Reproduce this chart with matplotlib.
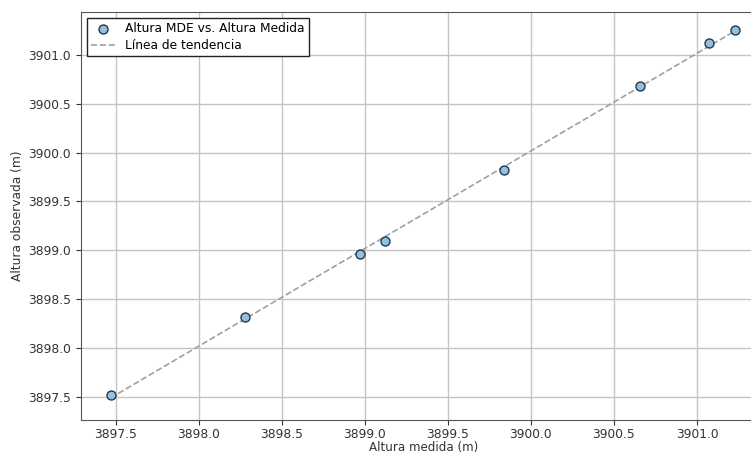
import numpy as np
import matplotlib.pyplot as plt

# alturas
altura_medida = [3897.47, 3898.28, 3898.97, 3899.12, 3899.84, 3900.66, 3901.07, 3901.23]
altura_mde = [3897.52, 3898.32, 3898.96, 3899.09, 3899.82, 3900.68, 3901.125, 3901.255]

fig = plt.figure(figsize=(7.51, 4.55), dpi=100)
ax = fig.add_axes([80.7 / 751, 35 / 455, 686 / 751, 408 / 455])

ax.scatter(altura_medida, altura_mde, s=42, color='#94c0e0', edgecolor='#22384c',
           linewidth=1.0, label='Altura MDE vs. Altura Medida', zorder=3)

coef = np.polyfit(altura_medida, altura_mde, 1)
xs = np.array([min(altura_medida), max(altura_medida)])
ax.plot(xs, np.polyval(coef, xs), '--', color='#a0a0a0', linewidth=1.2,
        label='Línea de tendencia', zorder=2)

ax.set_xlim(3897.29, 3901.42)
ax.set_ylim(3897.26, 3901.44)
ax.set_xticks(np.arange(3897.5, 3901.01, 0.5))
ax.set_yticks(np.arange(3897.5, 3901.01, 0.5))
ax.tick_params(labelsize=8.8, colors='#333333')
ax.tick_params(axis='x', pad=2.5)
ax.set_xlabel('Altura medida (m)', fontsize=8.6, labelpad=0, color='#333333')
ax.set_ylabel('Altura observada (m)', fontsize=8.8, labelpad=3, color='#333333')
ax.grid(True, color='#c4c4c4', linewidth=1.0)
for s in ax.spines.values():
    s.set_color('#555555')

leg = ax.legend(loc='upper left', fontsize=8.8, fancybox=False, framealpha=1,
                borderpad=0.35, handletextpad=0.8, labelspacing=0.3)
leg.get_frame().set_edgecolor('#222222')
leg.get_frame().set_linewidth(1.0)

fig.savefig('out.png', dpi=100)
